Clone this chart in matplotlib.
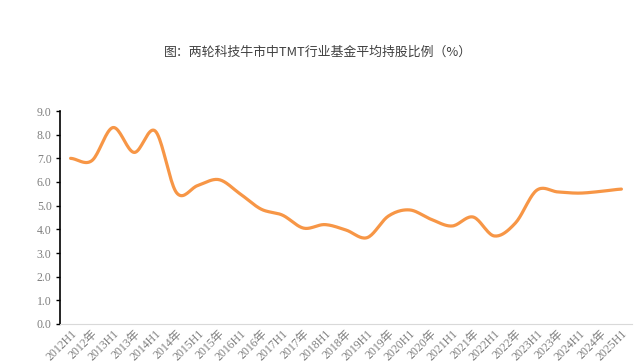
import numpy as np
import matplotlib
matplotlib.use("Agg")
import matplotlib.pyplot as plt

# 类别与数值
periods = []
for yr in range(2012, 2025):
    periods += [f"{yr}H1", f"{yr}年"]
periods.append("2025H1")

values = [7.00, 6.90, 8.30, 7.25, 8.15, 5.55, 5.85, 6.10, 5.50, 4.85,
          4.60, 4.05, 4.20, 3.97, 3.65, 4.56, 4.82, 4.43, 4.14, 4.52,
          3.72, 4.27, 5.65, 5.58, 5.53, 5.60, 5.70]

yticks = np.arange(0, 9.5, 1.0)
title = "图：两轮科技牛市中TMT行业基金平均持股比例（%）"


def smooth(x, y, n=20):
    # Catmull-Rom 曲线，只用于画平滑线
    x = np.asarray(x, float)
    y = np.asarray(y, float)
    px = np.concatenate([[2 * x[0] - x[1]], x, [2 * x[-1] - x[-2]]])
    py = np.concatenate([[y[0]], y, [y[-1]]])
    xs, ys = [], []
    t = np.linspace(0, 1, n, endpoint=False)
    for i in range(1, len(px) - 2):
        for arr, out in ((px, xs), (py, ys)):
            p0, p1, p2, p3 = arr[i - 1], arr[i], arr[i + 1], arr[i + 2]
            out.extend(0.5 * ((2 * p1) + (-p0 + p2) * t
                              + (2 * p0 - 5 * p1 + 4 * p2 - p3) * t ** 2
                              + (-p0 + 3 * p1 - 3 * p2 + p3) * t ** 3))
    xs.append(x[-1])
    ys.append(y[-1])
    return np.array(xs), np.array(ys)


fig = plt.figure(figsize=(6.38, 3.61), dpi=100)
ax = fig.add_axes([60 / 638, 1 - 324 / 361, 572 / 638, 213 / 361])

x = np.arange(len(periods))
sx, sy = smooth(x, values)
ax.plot(sx, sy, color="#F79646", lw=2.3, solid_capstyle="round")

ax.set_xlim(-0.5, len(periods) - 0.5)
ax.set_ylim(0, 9)
ax.set_yticks(yticks)
ax.set_yticklabels([f"{v:.1f}" for v in yticks], family="Liberation Serif",
                   fontsize=8.5, color="#7f7f7f")
ax.set_xticks(x)
ax.set_xticklabels(periods, rotation=45, ha="right", va="top",
                   family=["Liberation Serif", "Noto Sans CJK SC"],
                   fontsize=8.5, color="#7f7f7f", rotation_mode="anchor")

for s in ["top", "right"]:
    ax.spines[s].set_visible(False)
ax.spines["left"].set_color("black")
ax.spines["left"].set_linewidth(1.2)
ax.spines["bottom"].set_color("#d9d9d9")
ax.tick_params(axis="y", length=3, width=1, color="black", pad=3)
ax.tick_params(axis="x", length=0, pad=3)

fig.text(318 / 638, 1 - 52 / 361, title, ha="center", va="center",
         family=["Noto Sans CJK SC", "DejaVu Sans"], fontsize=9.3, color="#404040")

fig.savefig("out.png", dpi=100)
